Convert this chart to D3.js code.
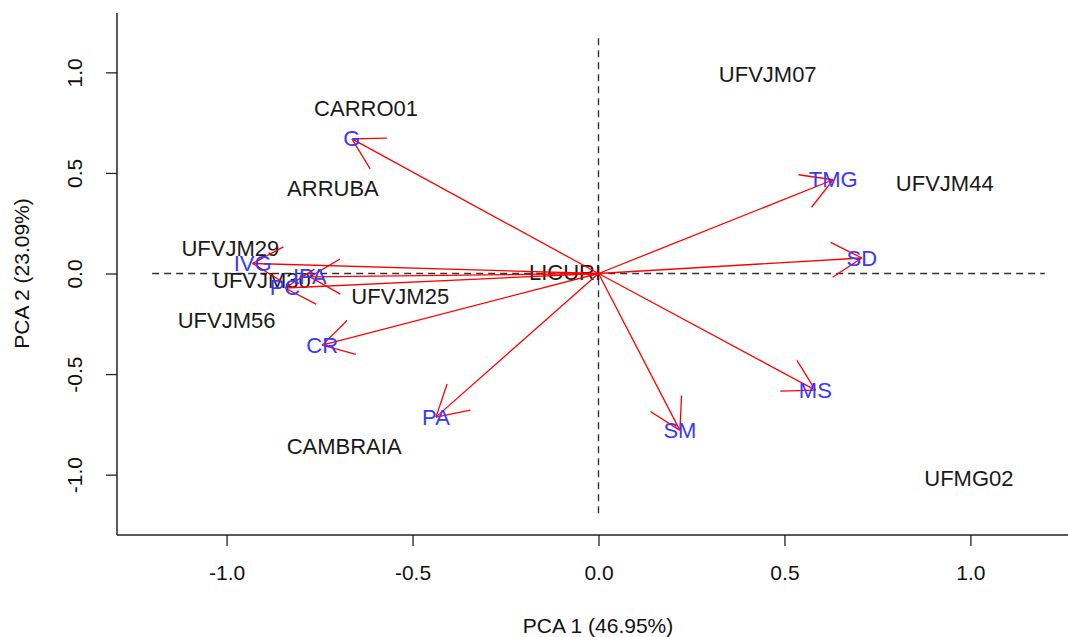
<!DOCTYPE html>
<html>
<head>
<meta charset="utf-8">
<script src="https://cdn.jsdelivr.net/npm/d3@7"></script>
<style>
  body { margin: 0; background: #fff; }
  text { font-family: "Liberation Sans", Arial, sans-serif; }
</style>
</head>
<body>
<div id="chart"></div>
<script>
// genotypes (scores)
const genotypes = ["UFVJM07", "CARRO01", "ARRUBA", "UFVJM44", "UFVJM29", "UFVJM30", "UFVJM25", "UFVJM56", "LICURI", "CAMBRAIA", "UFMG02"];
const genoX = [0.455, -0.625, -0.714, 0.931, -0.99, -0.905, -0.533, -1.0, -0.09, -0.684, 0.996];
const genoY = [0.988, 0.818, 0.425, 0.445, 0.122, -0.037, -0.112, -0.236, 0.007, -0.858, -1.017];

// variables (loadings)
const variables = ["G", "TMG", "SD", "MS", "SM", "PA", "CR", "PC", "IVG", "IPA"];
const varX = [-0.663, 0.631, 0.708, 0.583, 0.219, -0.437, -0.743, -0.843, -0.93, -0.776];
const varY = [0.669, 0.466, 0.077, -0.58, -0.78, -0.714, -0.356, -0.072, 0.05, -0.017];

const tickVals = [-1.0, -0.5, 0.0, 0.5, 1.0];
const xTitle = "PCA 1 (46.95%)";
const yTitle = "PCA 2 (23.09%)";

const W = 1068, H = 637;
const svg = d3.select("#chart").append("svg").attr("width", W).attr("height", H);

const x = d3.scaleLinear().domain([-1.3, 1.3]).range([115, 1082]);
const y = d3.scaleLinear().domain([-1.3, 1.3]).range([535, 12]);

const axisColor = "#222";
const fmt = d => d.toFixed(1); // plain hyphen for negatives, like R

// axes (L-shaped box)
svg.append("line").attr("x1", 117).attr("x2", 117).attr("y1", 13).attr("y2", 535)
  .attr("stroke", axisColor).attr("stroke-width", 1.5);
svg.append("line").attr("x1", 117).attr("x2", W).attr("y1", 535).attr("y2", 535)
  .attr("stroke", axisColor).attr("stroke-width", 1.5);

const xAxis = svg.append("g").attr("transform", "translate(0,535)")
  .call(d3.axisBottom(x).tickValues(tickVals).tickFormat(fmt).tickSize(11).tickPadding(19));
xAxis.select(".domain").remove();
xAxis.selectAll("line").attr("stroke", axisColor).attr("stroke-width", 1.3);
xAxis.selectAll("text").attr("font-size", 21).attr("fill", "#111")
  .attr("font-family", "Liberation Sans, Arial, sans-serif");

const yAxis = svg.append("g").attr("transform", "translate(117,0)")
  .call(d3.axisLeft(y).tickValues(tickVals).tickFormat(fmt).tickSize(11));
yAxis.select(".domain").remove();
yAxis.selectAll("line").attr("stroke", axisColor).attr("stroke-width", 1.3);
yAxis.selectAll("text")
  .attr("x", null).attr("dy", null)
  .attr("text-anchor", "middle")
  .attr("transform", "translate(-35,0) rotate(-90)")
  .attr("font-size", 21).attr("fill", "#111")
  .attr("font-family", "Liberation Sans, Arial, sans-serif");

// axis titles
svg.append("text").attr("x", 598).attr("y", 633).attr("text-anchor", "middle")
  .attr("font-size", 21).attr("fill", "#111").text(xTitle);
svg.append("text").attr("transform", `translate(29,${y(0)}) rotate(-90)`)
  .attr("text-anchor", "middle").attr("font-size", 21).attr("fill", "#111").text(yTitle);

// reference dashed lines
svg.append("line").attr("x1", x(-1.2)).attr("x2", x(1.2)).attr("y1", y(0)).attr("y2", y(0))
  .attr("stroke", "#333").attr("stroke-width", 1.4).attr("stroke-dasharray", "7,5");
svg.append("line").attr("x1", x(0)).attr("x2", x(0)).attr("y1", y(1.17)).attr("y2", y(-1.21))
  .attr("stroke", "#333").attr("stroke-width", 1.4).attr("stroke-dasharray", "7,5");

// genotype labels
const geno = genotypes.map((g, i) => ({ name: g, x: genoX[i], y: genoY[i] }));
svg.append("g").selectAll("text").data(geno).enter().append("text")
  .attr("x", d => x(d.x)).attr("y", d => y(d.y))
  .attr("text-anchor", "middle").attr("dominant-baseline", "central")
  .attr("font-size", 22).attr("fill", "#1a1a1a").text(d => d.name);

// variable arrows
const vars = variables.map((v, i) => ({ name: v, x: varX[i], y: varY[i] }));
const headLen = 35, headAng = Math.PI / 6;
const arrows = svg.append("g").attr("stroke", "red").attr("stroke-width", 1.3).attr("fill", "none");
vars.forEach(d => {
  const x0 = x(0), y0 = y(0), x1 = x(d.x), y1 = y(d.y);
  arrows.append("line").attr("x1", x0).attr("y1", y0).attr("x2", x1).attr("y2", y1);
  const a = Math.atan2(y0 - y1, x0 - x1);
  [a - headAng, a + headAng].forEach(b => {
    arrows.append("line").attr("x1", x1).attr("y1", y1)
      .attr("x2", x1 + headLen * Math.cos(b)).attr("y2", y1 + headLen * Math.sin(b));
  });
});

// variable labels
svg.append("g").selectAll("text").data(vars).enter().append("text")
  .attr("x", d => x(d.x)).attr("y", d => y(d.y))
  .attr("text-anchor", "middle").attr("dominant-baseline", "central")
  .attr("font-size", 22).attr("fill", "#3838ff").text(d => d.name);
</script>
</body>
</html>
